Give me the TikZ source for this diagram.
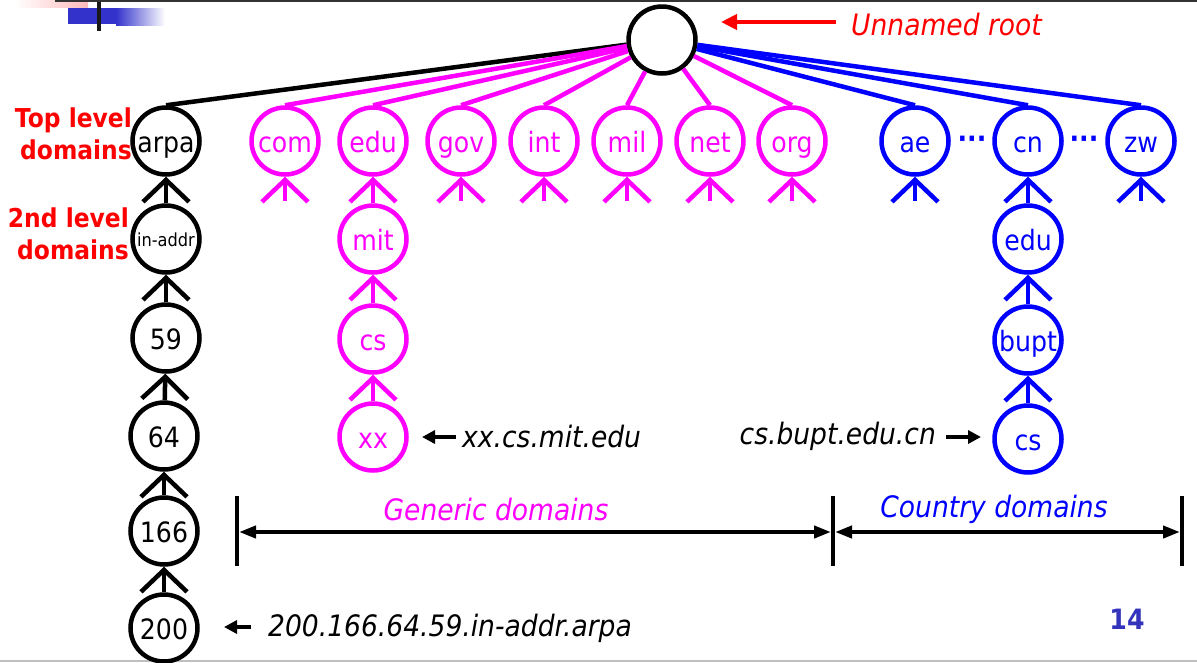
\documentclass[tikz,border=0pt]{standalone}
\usepackage{fontspec}
\setmainfont{DejaVu Sans}[FakeStretch=0.9]
\usetikzlibrary{arrows.meta,calc}
\definecolor{mag}{RGB}{255,0,255}
\definecolor{blu}{RGB}{0,0,255}
\definecolor{rd}{RGB}{255,0,0}
\definecolor{numblue}{RGB}{51,51,187}
\definecolor{deco}{RGB}{51,51,204}
\definecolor{pinkdeco}{RGB}{255,185,185}
\begin{document}
\begin{tikzpicture}[x=1pt,y=-1pt,
  dn/.style={circle,draw,line width=4.5pt,minimum size=67pt,inner sep=0pt,fill=white,font=\fontsize{28}{32}\selectfont,text height=22pt,text depth=0pt},
  up/.style={line width=4.5pt,-{Straight Barb[length=22pt,width=46pt]}},
  tree/.style={line width=4.5pt},
  lab/.style={font=\itshape\fontsize{29.5}{34}\selectfont,inner sep=0pt},
  ptr/.style={line width=4pt,-{Triangle[length=13pt,width=13pt]}},
  dim/.style={line width=4pt,{Triangle[length=17pt,width=12pt]}-{Triangle[length=17pt,width=12pt]}},
  bar/.style={line width=4pt},
  lvl/.style={font=\bfseries\fontsize{26}{32}\selectfont,text=rd,align=right,inner sep=0pt},
  dots/.style={font=\bfseries\fontsize{28}{32}\selectfont,inner sep=0pt}
]
\useasboundingbox (0,0) rectangle (1197,662);
% frame decoration
\shade[left color=white,right color=pinkdeco] (15,0) rectangle (88,7);
\fill[deco] (68,8) rectangle (116,24);
\shade[left color=deco,right color=white] (116,8) rectangle (165,25);
\fill[black!90] (97,0) rectangle (101,31);
\draw[line width=1.5pt,black!80] (55,0.75) -- (1197,0.75);
\draw[line width=2pt,black!25] (0,661) -- (1197,661);

% nodes
\node[dn] (root) at (662,40) {};
\node[dn] (arpa) at (166,141) {arpa};
\node[dn,font=\fontsize{18}{22}\selectfont,text height=14pt] (inaddr) at (166,239) {in-addr};
\node[dn] (n59) at (166,338) {59};
\node[dn] (n64) at (164,436) {64};
\node[dn] (n166) at (164,531) {166};
\node[dn] (n200) at (164,628) {200};

\begin{scope}[every node/.append style={draw=mag,text=mag}]
\node[dn] (com) at (285,141) {com};
\node[dn] (edu) at (373,141) {edu};
\node[dn] (gov) at (461,141) {gov};
\node[dn] (int) at (544,141) {int};
\node[dn] (mil) at (627,141) {mil};
\node[dn] (net) at (710,141) {net};
\node[dn] (org) at (792,141) {org};
\node[dn] (mit) at (373,239) {mit};
\node[dn] (mcs) at (373,339) {cs};
\node[dn] (xx) at (373,437) {xx};
\end{scope}

\begin{scope}[every node/.append style={draw=blu,text=blu}]
\node[dn] (ae) at (915,141) {ae};
\node[dn] (cn) at (1028,141) {cn};
\node[dn] (zw) at (1141,141) {zw};
\node[dn] (cedu) at (1028,239) {edu};
\node[dn] (bupt) at (1028,340) {bupt};
\node[dn] (ccs) at (1028,439) {cs};
\end{scope}

\node[dots,text=blu] (d1) at (972,142) {···};
\node[dots,text=blu] (d2) at (1084,142) {···};

% tree lines from root
\draw[tree] (root) -- (arpa.north);
\begin{scope}[mag]
\foreach \n in {com,edu,gov,int,mil,net,org}
  \draw[tree] (root) -- (\n.north);
\end{scope}
\begin{scope}[blu]
\foreach \n in {ae,cn,zw}
  \draw[tree] (root) -- (\n.north);
\end{scope}

% chains
\draw[up] (inaddr) -- (arpa);
\draw[up] (n59) -- (inaddr);
\draw[up] (n64) -- (n59);
\draw[up] (n166) -- (n64);
\draw[up] (n200) -- (n166);
\draw[up,mag] (mit) -- (edu);
\draw[up,mag] (mcs) -- (mit);
\draw[up,mag] (xx) -- (mcs);
\draw[up,blu] (cedu) -- (cn);
\draw[up,blu] (bupt) -- (cedu);
\draw[up,blu] (ccs) -- (bupt);

% stubs
\foreach \n/\c in {com/mag,gov/mag,int/mag,mil/mag,net/mag,org/mag,ae/blu,zw/blu}{
  \coordinate (\n stub) at ($(\n.south)+(0,24)$);
  \draw[up,\c] (\n stub) -- (\n.south);
}

% labels
\node[lvl,anchor=east] (tld) at (132,134) {Top level\\domains};
\node[lvl,anchor=east] (sld) at (129,234) {2nd level\\domains};

\node[anchor=west,font=\itshape\fontsize{29.5}{34}\selectfont,text=rd,inner sep=0pt] (unl) at (851,24) {Unnamed root};
\coordinate (ra1) at (836,22);
\coordinate (ra2) at (721,22);
\draw[line width=4pt,rd,-{Triangle[length=16pt,width=15pt]}] (ra1) -- (ra2);

\node[lab,anchor=west] (xxl) at (462,436) {xx.cs.mit.edu};
\coordinate (xa1) at (456,437);
\coordinate (xa2) at (422,437);
\draw[ptr] (xa1) -- (xa2);

\node[lab,anchor=east] (csl) at (936,436) {cs.bupt.edu.cn};
\coordinate (ca1) at (946,437);
\coordinate (ca2) at (981,437);
\draw[ptr] (ca1) -- (ca2);

\node[lab,anchor=west] (ipl) at (268,628) {200.166.64.59.in-addr.arpa};
\coordinate (ia1) at (251,627);
\coordinate (ia2) at (224,627);
\draw[ptr] (ia1) -- (ia2);

% dimension brackets
\coordinate (b1t) at (237,496); \coordinate (b1b) at (237,566);
\coordinate (b2t) at (833,496); \coordinate (b2b) at (833,566);
\coordinate (b3t) at (1182,496); \coordinate (b3b) at (1182,566);
\draw[bar] (b1t) -- (b1b);
\draw[bar] (b2t) -- (b2b);
\draw[bar] (b3t) -- (b3b);
\coordinate (g1) at (239,532); \coordinate (g2) at (831,532);
\coordinate (c1) at (835,532); \coordinate (c2) at (1180,532);
\draw[dim] (g1) -- (g2);
\draw[dim] (c1) -- (c2);
\node[lab,text=mag] (gen) at (496,509) {Generic domains};
\node[lab,text=blu] (ctry) at (994,509) {Country domains};

\node[font=\bfseries\fontsize{28}{32}\selectfont,text=numblue,inner sep=0pt] (pg) at (1127,619) {14};
\end{tikzpicture}
\end{document}
